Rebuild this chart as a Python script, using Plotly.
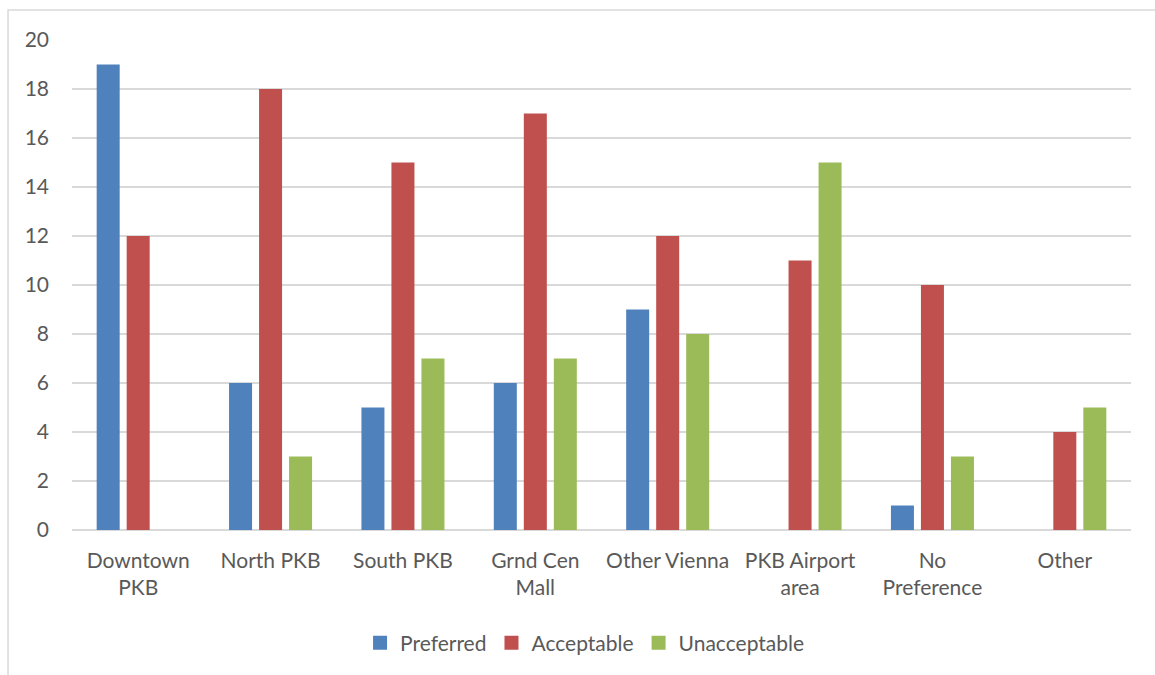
import plotly.graph_objects as go

categories = ["Downtown<br>PKB", "North PKB", "South PKB", "Grnd Cen<br>Mall",
              "Other Vienna", "PKB Airport<br>area", "No<br>Preference", "Other"]
preferred = [19, 6, 5, 6, 9, 0, 1, 0]
acceptable = [12, 18, 15, 17, 12, 11, 10, 4]
unacceptable = [0, 3, 7, 7, 8, 15, 3, 5]
y_ticks = [0, 2, 4, 6, 8, 10, 12, 14, 16, 18, 20]

series = [
    ("Preferred", preferred, "#4F81BD"),
    ("Acceptable", acceptable, "#C0504D"),
    ("Unacceptable", unacceptable, "#9BBB59"),
]

FONT = "Lato"
TXT = "#595959"
FS = 21

fig = go.Figure()
for name, vals, col in series:
    fig.add_trace(go.Bar(x=categories, y=vals, name=name, showlegend=False,
                         marker=dict(color=col, line=dict(width=0))))
# square legend swatches
for name, vals, col in series:
    fig.add_trace(go.Scatter(x=[None], y=[None], name=name, mode="markers",
                             marker=dict(symbol="square", size=14, color=col),
                             showlegend=True, hoverinfo="skip"))

fig.update_layout(
    width=1155, height=675,
    margin=dict(l=72, r=24, t=40, b=145),
    paper_bgcolor="white", plot_bgcolor="white",
    barmode="group", bargap=0.32, bargroupgap=0.233,
    font=dict(family=FONT, size=FS, color=TXT),
    showlegend=True,
    legend=dict(orientation="h", x=0.484, xanchor="center",
                y=-0.2306, yanchor="middle",
                font=dict(family=FONT, size=FS, color=TXT),
                itemwidth=30, tracegroupgap=0),
    xaxis=dict(showgrid=False, showline=False, ticks="", ticklabelstandoff=16,
               tickfont=dict(family=FONT, size=FS, color=TXT)),
    yaxis=dict(range=[0, 20], tickvals=y_ticks, showgrid=True,
               gridcolor="#D9D9D9", gridwidth=1.5,
               zeroline=True, zerolinecolor="#D9D9D9", zerolinewidth=1.5,
               showline=False, ticks="", ticklabelstandoff=22,
               tickfont=dict(family=FONT, size=FS, color=TXT)),
    shapes=[dict(type="rect", xref="paper", yref="paper",
                 x0=-0.0604, x1=1.05, y0=-0.4, y1=1.0612,
                 line=dict(color="#D9D9D9", width=1.5), fillcolor="rgba(0,0,0,0)",
                 layer="below")],
)

fig.write_html("out.html")
